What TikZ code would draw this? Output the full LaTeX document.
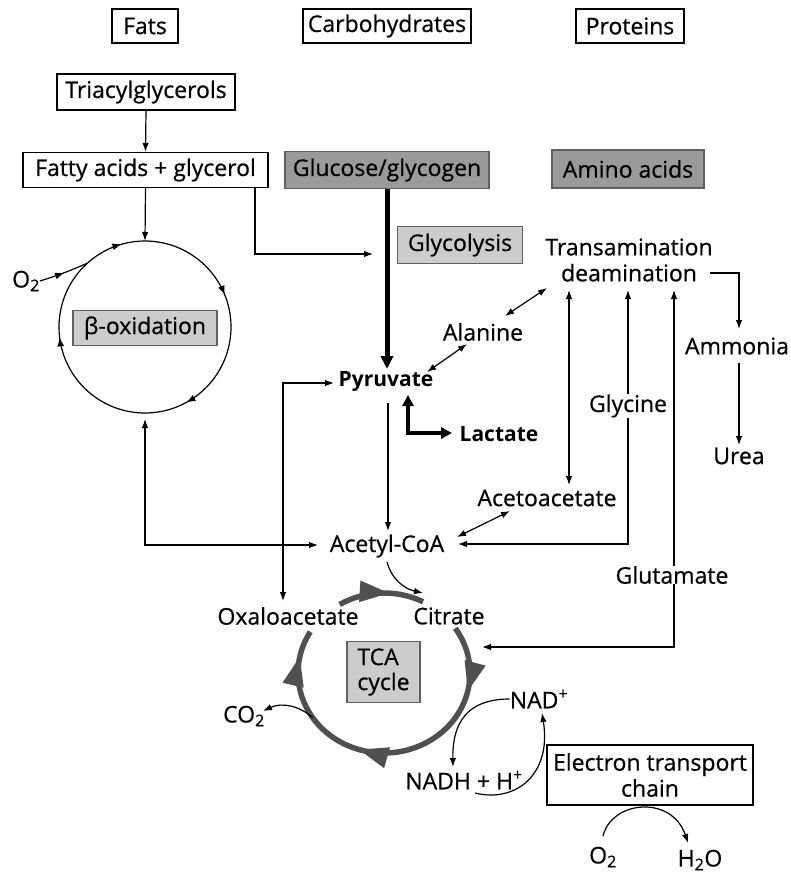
\documentclass[tikz,border=0pt]{standalone}
\usepackage{fontspec}
\setmainfont{Open Sans}[UprightFeatures={FakeBold=0.6}]
\usetikzlibrary{arrows.meta,calc,decorations.markings}
\definecolor{ringgray}{HTML}{505050}
\definecolor{darkfill}{HTML}{9A9A9A}
\definecolor{lightfill}{HTML}{CCCCCC}
\definecolor{boxedge}{HTML}{606060}
\begin{document}
\begin{tikzpicture}[x=1pt,y=-1pt,
  every node/.style={font=\fontsize{23}{26}\selectfont, inner sep=0pt},
  box/.style={draw, line width=1.2pt, minimum height=35pt},
  gbox/.style={draw=boxedge, line width=1.2pt, fill=darkfill},
  lbox/.style={draw=boxedge, line width=1.2pt, fill=lightfill},
  ln/.style={line width=1.2pt},
  ar/.style={ln, -{Latex[length=9pt,width=6.5pt]}},
  dar/.style={ln, {Latex[length=9pt,width=6.5pt]}-{Latex[length=9pt,width=6.5pt]}},
  ring/.style={line width=5.5pt, color=ringgray},
  bold/.style={font=\fontsize{21}{25}\selectfont\bfseries}
]
\useasboundingbox (0,0) rectangle (790,873);

% header
\node[box, minimum width=66pt, minimum height=34pt] (fats) at (145,26) {Fats};
\node[box, minimum width=168pt, minimum height=34pt] (carbs) at (387,26) {Carbohydrates};
\node[box, minimum width=108pt, minimum height=34pt] (prot) at (630,26) {Proteins};

% fats column
\node[box, minimum width=178pt, minimum height=36pt] (tag) at (146,92) {Triacylglycerols};
\node[box, minimum width=245pt, minimum height=35pt] (fa) at (145.5,170) {Fatty acids + glycerol};
\node[gbox, minimum width=204pt, minimum height=37pt] (glc) at (387,170) {Glucose/glycogen};
\node[gbox, minimum width=152pt, minimum height=38pt] (aa) at (628,169) {Amino acids};
\node[lbox, minimum width=125pt, minimum height=37pt] (glyc) at (460,245) {Glycolysis};

% beta oxidation circle
\coordinate (bc) at (145,327);
\coordinate (bctop) at (145,241);
\coordinate (bcbot) at (145,419);
\draw[ln, decoration={markings,
   mark=at position 0.067 with {\arrow{Latex[length=9pt,width=7pt]}},
   mark=at position 0.30 with {\arrow{Latex[length=9pt,width=7pt]}},
   mark=at position 0.531 with {\arrow{Latex[length=9pt,width=7pt]}},
   mark=at position 0.842 with {\arrow{Latex[length=9pt,width=7pt]}}},
   postaction=decorate]
  ($(bc)+(130:86pt)$) arc[start angle=130, end angle=-230, radius=86pt];
\node[lbox, minimum width=144pt, minimum height=35pt] (beta) at (145,328) {β-oxidation};
\node (o2a) at (26,281) {O\textsubscript{2}};
\draw[ln, decoration={markings, mark=at position 0.5 with {\arrow{Latex[length=9pt,width=7pt]}}}, postaction=decorate]
  (o2a.east) .. controls (62,274) and (72,270) .. ($(bc)+(132:86pt)$);

\draw[ar] (tag.south) -- (fa.north);
\draw[ar] (fa.south) -- (bctop);
\coordinate (k1) at (255,254);
\coordinate (glyin) at (373,254);
\draw[ar] (fa.south -| k1) -- (k1) -- (glyin);

% center column
\node[bold] (pyr) at (386,382) {Pyruvate};
\node[bold] (lac) at (499,434) {Lactate};
\node (ala) at (483,332) {Alanine};
\node[align=center] (trans) at (629,260) {Transamination\\deamination};
\node (amm) at (737,346) {Ammonia};
\node (urea) at (739,456) {Urea};
\node (gly) at (628,406) {Glycine};
\node (acac) at (547,498) {Acetoacetate};
\node (acoa) at (387,546) {Acetyl-CoA};
\node (glu) at (672,575) {Glutamate};
\node (oxa) at (288,616) {Oxaloacetate};
\node (cit) at (449,616) {Citrate};

\coordinate (pyrtop) at (387,369);
\draw[line width=5pt, -{Triangle[length=13pt,width=12pt]}] (glc.south) -- (pyrtop);

\draw[dar] (427,372) -- (467,344);
\draw[dar] (505,316) -- (547,288);
\draw[dar] (569,290) -- (569,485);
\draw[ar] (gly.north) -- (628,290);
\coordinate (k2) at (628,544);
\draw[ar] (gly.south) -- (k2) -- (458,544);
\draw[ar] (glu.north -| 674,0) -- (674,290);
\coordinate (k3) at (674,647);
\draw[ar] (glu.south -| k3) -- (k3) -- (482,647);
\coordinate (k4) at (739,273);
\draw[ar] (710,273) -- (k4) -- (739,329);
\draw[ar] (739,363) -- (739,445);
\draw[ar] (388,403) -- (388,531);
\draw[line width=3.5pt, {Triangle[length=11pt,width=11pt]}-{Triangle[length=11pt,width=11pt]}] (408,395) -- (408,433) -- (452,433);
\coordinate (k5) at (283,383);
\draw[dar] (283,601) -- (k5) -- (334,383);
\coordinate (k6) at (145,545);
\draw[dar] (bcbot) -- (k6) -- (318,545);
\draw[dar] (510,511) -- (457,537);
\draw[ar] (387,562) .. controls (392,580) and (405,589) .. (423,593);

% TCA cycle
\coordinate (tc) at (384,673);
\draw[ring, decoration={markings, mark=at position 0.6 with {\arrow{Triangle[length=30pt,width=20pt]}}}, postaction=decorate]
  ($(tc)+(121:86pt and 80pt)$) arc[start angle=121, end angle=63, x radius=86pt, y radius=80pt];
\draw[ring, decoration={markings,
   mark=at position 0.19 with {\arrow{Triangle[length=30pt,width=20pt]}},
   mark=at position 0.58 with {\arrow{Triangle[length=30pt,width=20pt]}},
   mark=at position 0.925 with {\arrow{Triangle[length=30pt,width=20pt]}}},
   postaction=decorate]
  ($(tc)+(34:86pt and 80pt)$) arc[start angle=34, end angle=-211, x radius=86pt, y radius=80pt];
\node[lbox, minimum width=73pt, minimum height=61pt, align=left, font=\fontsize{23}{25}\selectfont] (tca) at (383.5,672) {TCA\\cycle};

\node (co2) at (244,716) {CO\textsubscript{2}};
\draw[ar] ($(tc)+(214:86pt and 80pt)$) .. controls (300,706) and (282,702) .. (263,711);

\node (nad) at (539,699) {NAD\textsuperscript{+}};
\node (nadh) at (464,780) {NADH + H\textsuperscript{+}};
\node[box, minimum width=206pt, minimum height=60pt, align=center] (etc) at (650,775) {Electron transport\\chain};
\draw[ar] (nad.west) .. controls (478,699) and (452,712) .. (453,767);
\draw[ar] (475,793) .. controls (515,803) and (552,775) .. (542,713);

\node (o2b) at (603,857) {O\textsubscript{2}};
\node (h2o) at (700,860) {H\textsubscript{2}O};
\draw[ar] (603,836) .. controls (612,800) and (672,795) .. (688,843);
\end{tikzpicture}
\end{document}
